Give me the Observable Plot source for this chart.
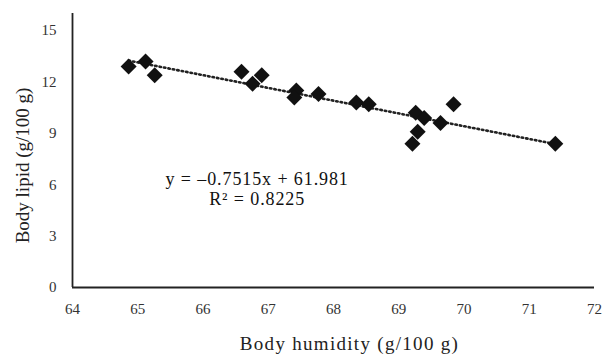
<!DOCTYPE html>
<html><head><meta charset="utf-8">
<script src="https://cdn.jsdelivr.net/npm/d3@7"></script>
<script src="https://cdn.jsdelivr.net/npm/@observablehq/plot@0.6"></script>
<style>body{margin:0;background:#fff;font-family:"Liberation Serif",serif}</style>
</head><body><div id="chart"></div>
<script>
const humidity = [64.86,65.12,65.26,66.59,66.76,66.90,67.43,67.40,67.77,68.35,68.54,69.26,69.39,69.29,69.21,69.64,69.84,71.40];
const lipid    = [12.9,13.2,12.4,12.6,11.9,12.4,11.5,11.1,11.3,10.8,10.7,10.2,9.9,9.1,8.4,9.6,10.7,8.4];
const xTicks = [64,65,66,67,68,69,70,71,72];
const yTicks = [0,3,6,9,12,15];
const eqLines = ["y = \u20130.7515x + 61.981", "R\u00b2 = 0.8225"];
const eqX = [66.83, 66.83];
const eqY = [6.3, 5.15];
const xLabel = "Body humidity (g/100 g)";
const yLabel = "Body lipid (g/100 g)";

const data = humidity.map((h,i)=>({h, l: lipid[i]}));
const eq = eqLines.map((t,i)=>({t, x: eqX[i], y: eqY[i]}));

const chart = Plot.plot({
  width: 604, height: 356,
  marginLeft: 72, marginRight: 10, marginTop: 13, marginBottom: 69,
  style: {fontFamily: "Liberation Serif", fontSize: "15px", color: "#222", background: "#fff"},
  x: {domain: [64,72]},
  y: {domain: [0,16]},
  marks: [
    Plot.axisX({ticks: xTicks, tickSize: 0, tickPadding: 16, fontSize: 15, label: null, fill: "#333"}),
    Plot.axisY({ticks: yTicks, tickSize: 0, tickPadding: 16, fontSize: 15, label: null, fill: "#333"}),
    Plot.text([xLabel], {frameAnchor: "bottom", dx: 16, dy: 62, fontSize: 19, fill: "#222", text: d => d}),
    Plot.text([yLabel], {frameAnchor: "left", textAnchor: "middle", dx: -50, dy: 15, rotate: -90, fontSize: 19, fill: "#222", text: d => d}),
    Plot.ruleY([0], {stroke: "#222", strokeWidth: 1.8}),
    Plot.ruleX([64], {stroke: "#222", strokeWidth: 1.8}),
    Plot.linearRegressionY(data, {x: "h", y: "l", ci: 0, stroke: "#222", strokeWidth: 2.6, strokeDasharray: "1.5,3"}),
    Plot.dot(data, {x: "h", y: "l", symbol: "diamond2", r: 7.2, fill: "#111", stroke: "none"}),
    Plot.text(eq, {x: "x", y: "y", text: "t", fontSize: 18, fill: "#111", textAnchor: "middle"})
  ]
});
// horizontal stretch of the reference's typesetting
d3.select(chart).selectAll("g[aria-label=text] text").each(function(){
  const t = this.textContent;
  if (t === xLabel) d3.select(this).style("letter-spacing", "1.3px");
  else if (eqLines.includes(t)) d3.select(this).style("letter-spacing", "0.9px");
});
document.getElementById("chart").appendChild(chart);
</script></body></html>
